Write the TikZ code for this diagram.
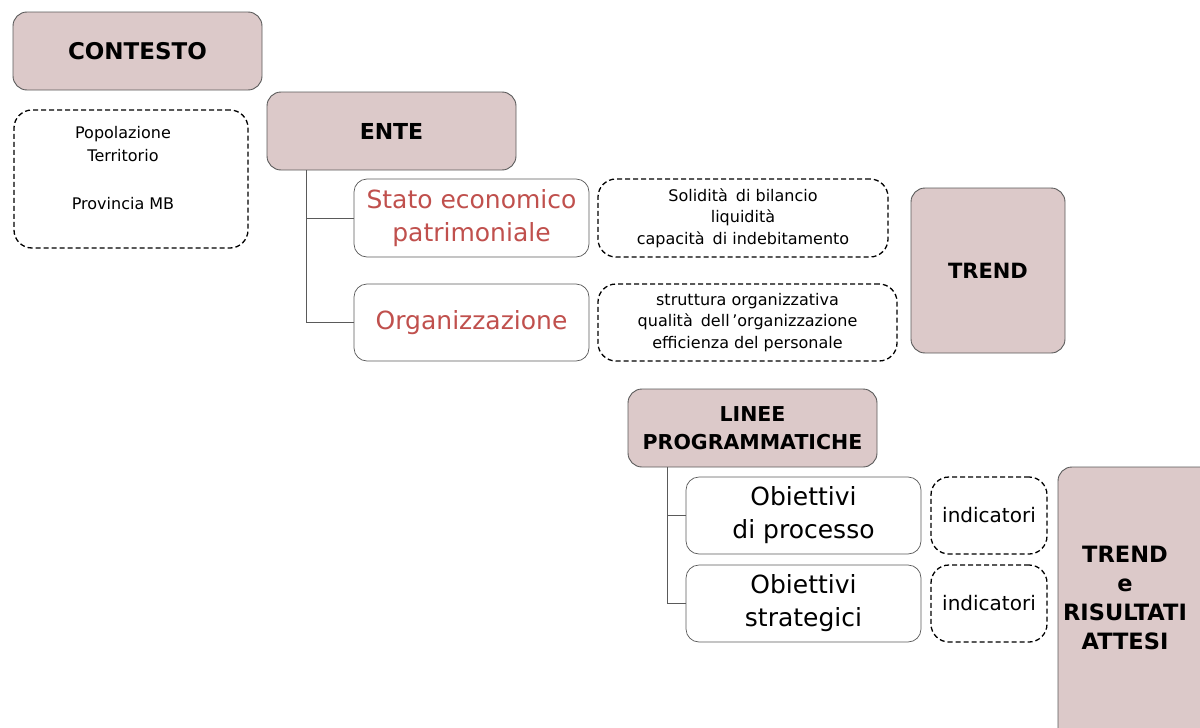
\documentclass[tikz,border=0pt]{standalone}
\usepackage{fontspec}
\setmainfont{DejaVu Sans}
\usetikzlibrary{positioning}
\definecolor{pinkfill}{HTML}{DCC9C9}
\definecolor{boxborder}{HTML}{5A5A5A}
\definecolor{redtxt}{HTML}{C0504D}
\tikzset{
  headbox/.style={draw=boxborder, line width=0.9pt, fill=pinkfill, rounded corners=14pt, align=center, inner sep=0pt, font=\bfseries},
  plainbox/.style={draw=boxborder, line width=0.7pt, fill=white, rounded corners=13pt, align=center, inner sep=0pt},
  dashbox/.style={draw=black, line width=1.3pt, dash pattern=on 5pt off 3pt, rounded corners=18pt, align=center, inner sep=0pt},
  conn/.style={draw=boxborder, line width=1pt},
  lbl/.style={inner sep=0pt, align=center}
}
\newcommand{\fs}[2]{\fontsize{#1}{#2}\selectfont}
\begin{document}
\begin{tikzpicture}[x=1pt,y=-1pt]
\useasboundingbox (0,0) rectangle (1200,728);
\clip (0,0) rectangle (1200,728);
% CONTESTO
\node[headbox, minimum width=249pt, minimum height=78pt, font=\bfseries\fs{23}{28}] (contesto) at (137.5,51) {CONTESTO};
\node[dashbox, minimum width=234pt, minimum height=138pt] (ctxbox) at (131,179) {};
\node[lbl, font=\fs{16}{23}] (ctxtxt1) at (123,144.5) {Popolazione\\Territorio};
\node[lbl, font=\fs{16}{23}] (ctxtxt2) at (123,204) {Provincia MB};
% ENTE
\node[headbox, minimum width=249pt, minimum height=78pt, font=\bfseries\fs{22}{26}] (ente) at (391.5,131) {ENTE};
\node[plainbox, minimum width=235pt, minimum height=78pt, text=redtxt, font=\fs{25}{33}] (stato) at (471.5,218) {Stato economico\\patrimoniale};
\node[plainbox, minimum width=235pt, minimum height=77pt, text=redtxt, font=\fs{25}{33}] (org) at (471.5,322.5) {Organizzazione};
\node[dashbox, minimum width=290pt, minimum height=78pt, font=\fs{16}{21.5}] (sol) at (743,218) {Solidità\enspace di bilancio\\liquidità\\capacità\enspace di indebitamento};
\node[dashbox, minimum width=299pt, minimum height=77pt, font=\fs{16}{21.5}] (strut) at (747.5,322.5) {struttura organizzativa\\qualità\enspace dell\,'organizzazione\\efficienza del personale};
\node[headbox, minimum width=154pt, minimum height=165pt, font=\bfseries\fs{21}{26}] (trend) at (988,270.5) {TREND};
\coordinate (eTrunk) at (306,170);
\draw[conn] (eTrunk) |- (stato.west);
\draw[conn] (eTrunk) |- (org.west);
% LINEE PROGRAMMATICHE
\node[headbox, minimum width=249pt, minimum height=78pt, font=\bfseries\fs{20.5}{28}] (linee) at (752.5,428) {LINEE\\PROGRAMMATICHE};
\node[plainbox, minimum width=235pt, minimum height=77pt, font=\fs{25}{33}] (proc) at (803.5,515.5) {Obiettivi\\di processo};
\node[plainbox, minimum width=235pt, minimum height=77pt, font=\fs{25}{33}] (strat) at (803.5,603.5) {Obiettivi\\strategici};
\node[dashbox, minimum width=116pt, minimum height=77pt, font=\fs{20}{24}] (ind1) at (989,515.5) {indicatori};
\node[dashbox, minimum width=116pt, minimum height=77pt, font=\fs{20}{24}] (ind2) at (989,603.5) {indicatori};
\node[headbox, minimum width=156pt, minimum height=280pt] (ris) at (1136,607) {};
\node[lbl, font=\bfseries\fs{22.5}{29}] (ristxt) at (1125,598) {TREND\\e\\RISULTATI\\ATTESI};
\coordinate (lTrunk) at (667,467);
\draw[conn] (lTrunk) |- (proc.west);
\draw[conn] (lTrunk) |- (strat.west);
\end{tikzpicture}
\end{document}
